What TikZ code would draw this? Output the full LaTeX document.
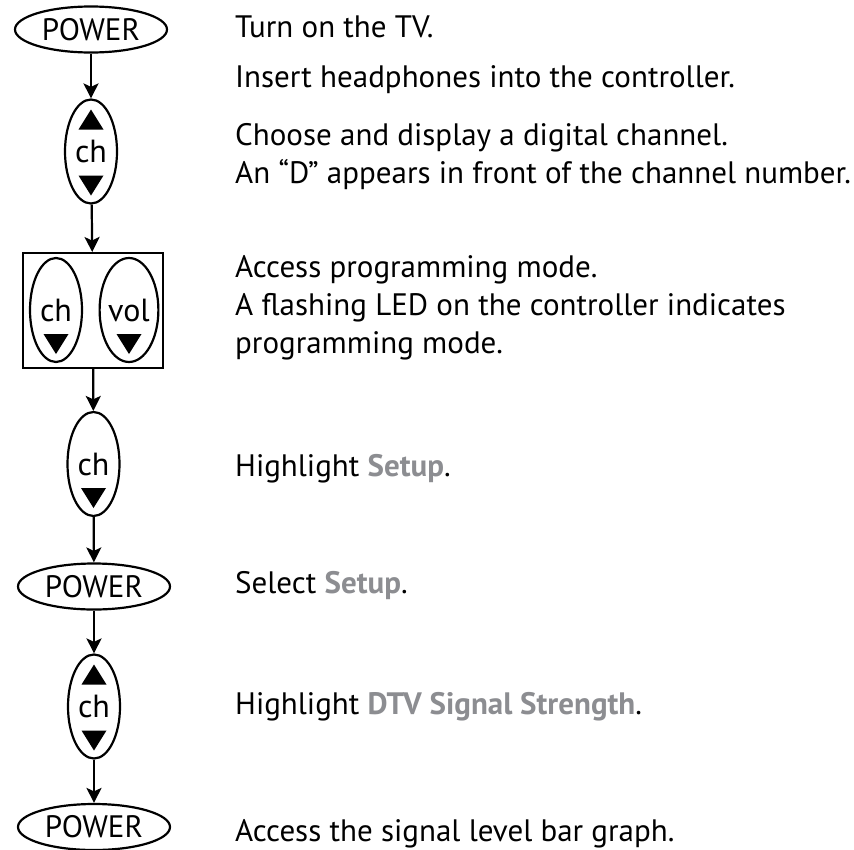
\documentclass[tikz,border=0pt]{standalone}
\usepackage{fontspec}
\setmainfont{PT Sans}
\usetikzlibrary{shapes.geometric,arrows.meta}
\definecolor{menugray}{RGB}{140,141,145}
\newcommand\menu[1]{\textcolor{menugray}{\textbf{#1}}}
\tikzset{
  btn/.style={draw,ellipse,line width=2.2pt,inner sep=0pt,font=\fontsize{32}{36}\selectfont},
  wide/.style={btn,minimum width=152pt,minimum height=46pt,font=\fontsize{31}{36}\selectfont},
  tall/.style={btn,minimum width=52pt,minimum height=104pt},
  note/.style={anchor=base west,inner sep=0pt,align=left,font=\fontsize{31}{38}\selectfont}
}
\begin{document}
\begin{tikzpicture}[x=1pt,y=-1pt]
      \useasboundingbox (0,0) rectangle (854,849);
      \draw
        (91,29.5) node[wide] (pw1){POWER}
        (91,151.5) node[tall] (ch1){ch}
        (93,310.5) node[draw,line width=2pt,minimum width=140pt,minimum height=115pt] (box){}
        (56,310) node[tall] (chl){ch}
        (129,310) node[tall] (vol){vol}
        (93.5,464) node[tall] (chdn){ch}
        (94,586.5) node[wide] (pw2){POWER}
        (94,706.5) node[tall] (ch2){ch}
        (94,827) node[wide] (pw3){POWER};
      \foreach \n in {ch1,chl,vol,chdn,ch2}
        \fill (\n.center) ++(-12.5,24) -- ++(25,0) -- ++(-12.5,20) -- cycle;
      \foreach \n in {ch1,ch2}
        \fill (\n.center) ++(-12.5,-22) -- ++(25,0) -- ++(-12.5,-20) -- cycle;
      \begin{scope}[-{Stealth[length=15pt,width=15pt,inset=3.5pt]},line width=2.2pt]
        \draw (pw1) to (ch1);
        \draw (ch1) to (box);
        \draw (box) to (chdn);
        \draw (chdn) to (pw2);
        \draw (pw2) to (ch2);
        \draw (ch2) to (pw3);
      \end{scope}
      \draw
        (235,37) node[note] (t1){Turn on the TV.}
        (235,87) node[note] (t2){Insert headphones into the controller.}
        (235,183) node[note] (t3){Choose and display a digital channel.\\An “D” appears in front of the channel number.}
        (235,353) node[note] (t4){Access programming mode.\\A flashing LED on the controller indicates\\programming mode.}
        (235,476) node[note] (t5){Highlight \menu{Setup}.}
        (235,593) node[note] (t6){Select \menu{Setup}.}
        (235,714) node[note] (t7){Highlight \menu{DTV Signal Strength}.}
        (235,841) node[note] (t8){Access the signal level bar graph.};
    \end{tikzpicture}
\end{document}
